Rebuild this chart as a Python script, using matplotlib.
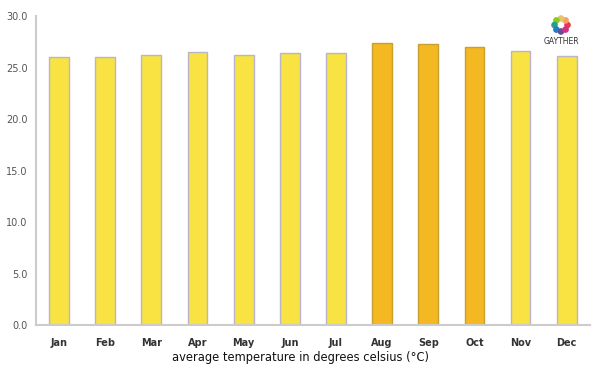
import numpy as np
import matplotlib.pyplot as plt
from matplotlib.patches import Circle
from matplotlib.transforms import IdentityTransform

months = ['Jan', 'Feb', 'Mar', 'Apr', 'May', 'Jun', 'Jul', 'Aug', 'Sep', 'Oct', 'Nov', 'Dec']
temps = [26.0, 26.0, 26.2, 26.5, 26.2, 26.4, 26.4, 27.4, 27.3, 27.0, 26.6, 26.1]
hot_months = ['Aug', 'Sep', 'Oct']

colors = ['#f4b822' if m in hot_months else '#f8e343' for m in months]
edges = ['#c9a030' if m in hot_months else '#b9b4cc' for m in months]

fig = plt.figure(figsize=(6, 3.75), dpi=100)
ax = fig.add_axes([0.06, 0.133, 0.923, 0.824])

x = np.arange(len(months))
ax.bar(x, temps, width=0.43, color=colors, edgecolor=edges, linewidth=1)

ax.set_xlim(-0.5, 11.5)
ax.set_ylim(0, 30)
ax.set_yticks(np.arange(0, 31, 5))
ax.set_yticklabels(['%.1f' % v for v in np.arange(0, 31, 5)], fontsize=7, color='#555555')
ax.set_xticks(x)
ax.set_xticklabels(months, fontsize=7, fontweight='bold', color='#333333')
ax.tick_params(axis='both', length=0)
ax.tick_params(axis='x', pad=9)
ax.tick_params(axis='y', pad=6)

for s in ['top', 'right']:
    ax.spines[s].set_visible(False)
for s in ['left', 'bottom']:
    ax.spines[s].set_color('#cccccc')
    ax.spines[s].set_linewidth(1.5)

fig.text(0.5, 1 - 357 / 375, 'average temperature in degrees celsius (°C)', ha='center', va='center',
         fontsize=8.3, color='#111111')

# logo
ring = ['#e63946', '#f4a261', '#e9c46a', '#8ac926', '#2a9d8f', '#1982c4', '#6a4c93', '#d62d8a']
ang = np.linspace(0, 2 * np.pi, len(ring), endpoint=False)
cx, cy = 561, 375 - 25
for a, c in zip(ang, ring):
    fig.patches.append(Circle((cx + 6.5 * np.cos(a), cy + 6.5 * np.sin(a)), 2.6, color=c,
                              transform=IdentityTransform(), figure=fig))
fig.text(cx / 600, 1 - 41 / 375, 'GAYTHER', ha='center', va='center', fontsize=5.5, color='#333333')

fig.savefig('out.png', dpi=100)
